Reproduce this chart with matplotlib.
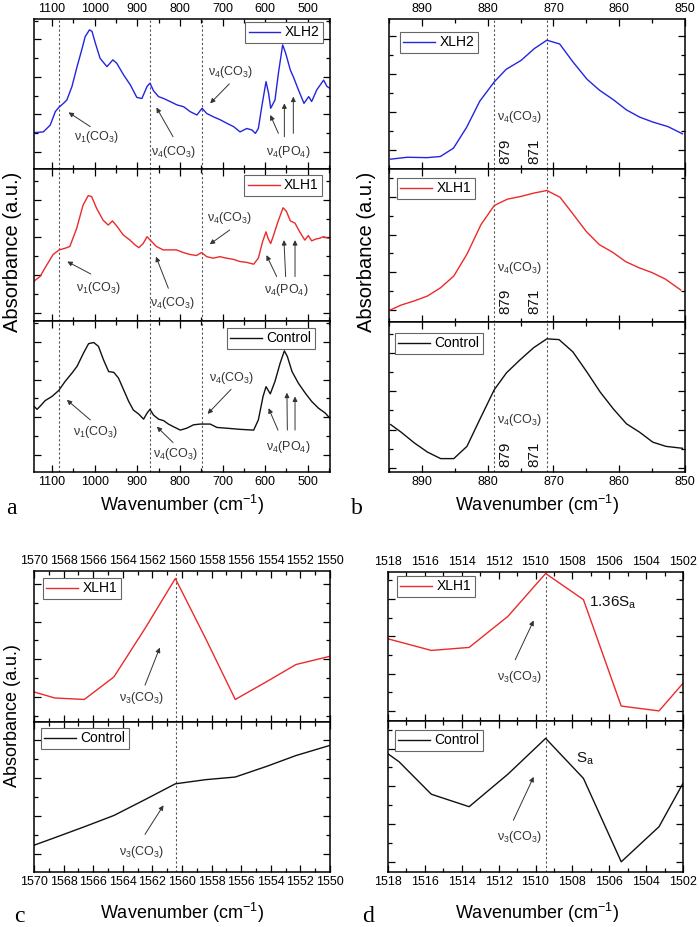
import matplotlib
matplotlib.use('Agg')
import matplotlib.pyplot as plt
from matplotlib.ticker import MultipleLocator, NullFormatter

plt.rcParams['font.family'] = ['Liberation Sans', 'DejaVu Sans']
plt.rcParams['mathtext.fontset'] = 'custom'
plt.rcParams['mathtext.rm'] = 'Liberation Sans'
plt.rcParams['mathtext.it'] = 'Liberation Sans:italic'
plt.rcParams['mathtext.bf'] = 'Liberation Sans:bold'

# ---------------- data: panel a (wide spectra) ----------------
a_wn_xlh2 = [1141, 1120, 1104, 1092, 1084, 1073, 1065, 1053, 1041, 1030, 1022, 1012, 1006, 998, 987,
             971, 957, 948, 932, 916, 901, 889, 877, 870, 862, 850, 838, 823, 807, 791, 776, 760, 748,
             737, 721, 705, 690, 674, 659, 643, 631, 623, 616, 608, 598, 592, 587, 577, 569, 559, 552,
             541, 534, 522, 509, 498, 491, 479, 471, 463, 455, 448]
a_xlh2 = [0.51, 0.53, 0.71, 1.07, 1.18, 1.29, 1.38, 1.74, 2.27, 2.72, 3.07, 3.25, 3.21, 2.89, 2.49,
          2.27, 2.45, 2.36, 2.05, 1.78, 1.45, 1.42, 1.74, 1.83, 1.63, 1.47, 1.42, 1.34, 1.25, 1.20, 1.07,
          0.98, 1.16, 1.02, 0.93, 0.85, 0.76, 0.67, 0.53, 0.62, 0.58, 0.49, 0.62, 1.20, 1.87, 1.56, 1.16,
          1.38, 2.09, 2.85, 2.63, 2.18, 2.00, 1.65, 1.29, 1.47, 1.34, 1.65, 1.78, 1.91, 1.74, 1.69]

a_wn_xlh1 = [1142, 1128, 1112, 1097, 1083, 1070, 1058, 1042, 1027, 1015, 1007, 995, 980, 968, 958,
             947, 933, 917, 905, 896, 886, 877, 866, 855, 839, 823, 808, 792, 777, 761, 749, 737, 722,
             706, 691, 675, 659, 644, 627, 616, 606, 598, 593, 587, 580, 570, 558, 550, 541, 530, 519,
             507, 499, 491, 481, 472, 464, 452]
a_xlh1 = [0.84, 0.96, 1.27, 1.55, 1.67, 1.71, 1.76, 2.24, 2.86, 3.11, 3.09, 2.77, 2.46, 2.33, 2.44,
          2.29, 2.07, 1.93, 1.80, 1.73, 1.84, 2.02, 1.89, 1.76, 1.67, 1.67, 1.67, 1.60, 1.55, 1.52, 1.60,
          1.49, 1.45, 1.49, 1.45, 1.42, 1.36, 1.34, 1.29, 1.45, 1.89, 2.15, 1.97, 1.84, 2.07, 2.42, 2.79,
          2.69, 2.44, 2.38, 2.15, 1.93, 2.05, 1.91, 1.96, 1.98, 2.02, 1.98]

a_wn_ctrl = [1141, 1135, 1127, 1116, 1100, 1084, 1069, 1053, 1041, 1026, 1014, 1002, 991, 979, 967,
             955, 944, 932, 920, 909, 897, 885, 877, 870, 862, 850, 838, 827, 815, 799, 784, 768, 752,
             729, 713, 690, 659, 627, 616, 605, 598, 588, 577, 565, 555, 548, 537, 522, 506, 491, 475,
             459, 448]
a_ctrl = [1.28, 1.21, 1.30, 1.44, 1.55, 1.71, 1.95, 2.17, 2.35, 2.70, 2.95, 2.98, 2.88, 2.52, 2.21,
          2.19, 2.04, 1.73, 1.42, 1.19, 1.09, 0.95, 1.11, 1.21, 1.06, 0.95, 0.91, 0.82, 0.75, 0.66, 0.71,
          0.80, 0.82, 0.82, 0.73, 0.71, 0.68, 0.66, 0.93, 1.55, 1.81, 1.62, 1.95, 2.43, 2.76, 2.61, 2.21,
          1.90, 1.64, 1.42, 1.24, 1.11, 0.97]
a_marks = [1084, 871, 749]

# ---------------- data: panel b (870 region) ----------------
b_wn_xlh2 = [894.75, 892.2, 889.2, 887.2, 885.2, 883.2, 881.2, 879.0, 877.2, 874.9, 872.9, 871.0,
             869.05, 867.05, 864.9, 863.0, 860.9, 858.9, 856.9, 854.9, 852.6, 850.4]
b_xlh2 = [-0.25, -0.20, -0.21, -0.18, 0.04, 0.59, 1.28, 1.79, 2.12, 2.36, 2.67, 2.89,
          2.79, 2.32, 1.86, 1.57, 1.32, 1.05, 0.86, 0.73, 0.61, 0.42]
b_wn_xlh1 = [894.8, 893.15, 891.15, 889.15, 887.15, 885.15, 883.15, 881.0, 879.0, 877.0, 875.0, 873.0,
             871.0, 869.0, 867.0, 865.0, 863.0, 861.0, 859.0, 857.0, 855.0, 853.0, 850.65]
b_xlh1 = [0.0, 0.13, 0.24, 0.37, 0.59, 0.90, 1.48, 2.27, 2.77, 2.94, 3.01, 3.10,
          3.17, 2.99, 2.54, 2.08, 1.73, 1.53, 1.28, 1.12, 0.99, 0.82, 0.53]
b_wn_ctrl = [894.75, 893.15, 891.15, 889.15, 887.15, 885.15, 883.15, 881.15, 879.0, 877.15, 875.15,
             873.0, 871.0, 869.15, 867.05, 864.9, 862.9, 860.9, 858.9, 856.9, 854.9, 852.9, 850.4]
b_ctrl = [1.13, 0.93, 0.65, 0.41, 0.24, 0.24, 0.56, 1.28, 2.04, 2.48, 2.81,
          3.14, 3.37, 3.35, 3.03, 2.50, 1.98, 1.54, 1.15, 0.93, 0.67, 0.56, 0.51]
b_marks = [879, 871]

# ---------------- data: panel c (1560 region) ----------------
c_wn = [1570.0, 1568.6, 1566.6, 1564.6, 1562.5, 1560.45, 1558.4, 1556.4, 1554.3, 1552.3, 1550.0]
c_xlh1 = [0.13, -0.03, -0.07, 0.53, 1.82, 3.15, 1.55, -0.07, 0.40, 0.86, 1.08]
c_ctrl = [0.22, 0.42, 0.71, 1.01, 1.43, 1.85, 1.96, 2.03, 2.31, 2.60, 2.87]
c_mark = 1560.43

# ---------------- data: panel d (1510 region) ----------------
d_wn_xlh1 = [1518.0, 1515.65, 1513.6, 1511.5, 1509.45, 1507.4, 1505.35, 1503.3, 1502.0]
d_xlh1 = [1.93, 1.62, 1.70, 2.53, 3.68, 2.98, 0.13, 0.0, 0.74]
d_wn_ctrl = [1518.0, 1517.4, 1515.65, 1513.6, 1511.5, 1509.45, 1507.4, 1505.35, 1503.3, 1502.0]
d_ctrl = [2.86, 2.65, 1.79, 1.46, 2.32, 3.27, 2.21, 0.0, 0.93, 2.08]
d_mark = 1509.45

BLUE = '#2424e0'
RED = '#ec2a2a'
BLACK = '#111111'
ANN = '#333333'

W, H = 699, 927
fig = plt.figure(figsize=(W / 100, H / 100), dpi=100)


def rect(x0, x1, ytop, ybot):
    return [x0 / W, 1 - ybot / H, (x1 - x0) / W, (ybot - ytop) / H]


def make_ax(r, xlim, ylim, xmaj, xmin, top_labels=False, bottom_labels=False):
    ax = fig.add_axes(r)
    ax.set_xlim(*xlim)
    ax.set_ylim(*ylim)
    ax.xaxis.set_major_locator(MultipleLocator(xmaj))
    ax.xaxis.set_minor_locator(MultipleLocator(xmin))
    ax.yaxis.set_major_locator(MultipleLocator(1))
    ax.yaxis.set_minor_locator(MultipleLocator(0.5))
    ax.yaxis.set_major_formatter(NullFormatter())
    ax.tick_params(which='both', direction='in', top=True, right=True, width=0.9,
                   labelsize=9, pad=3, labeltop=top_labels, labelbottom=bottom_labels,
                   labelleft=False)
    ax.tick_params(which='major', length=5)
    ax.tick_params(which='minor', length=3)
    for s in ax.spines.values():
        s.set_linewidth(1.1)
    return ax


def vlines(ax, xs):
    for x in xs:
        ax.axvline(x, color='#555555', lw=0.8, ls=(0, (2, 2)), zorder=1)


def arrow(ax, tail, head):
    ax.annotate('', xy=head, xytext=tail,
                arrowprops=dict(arrowstyle='-|>', color=ANN, lw=0.7, mutation_scale=7,
                                shrinkA=0, shrinkB=0))


def label(ax, x, y, s, size=9):
    ax.text(x, y, s, ha='center', va='center', fontsize=size, color=ANN)


def legend(ax, loc, anchor):
    lg = ax.legend(loc=loc, bbox_to_anchor=anchor, borderaxespad=0, frameon=True, fancybox=False,
                   edgecolor='#666666', framealpha=1, fontsize=10, handlelength=2.3,
                   handletextpad=0.3, borderpad=0.25)
    lg.get_frame().set_linewidth(0.8)


nu1 = 'ν$_1$(CO$_3$)'
nu4c = 'ν$_4$(CO$_3$)'
nu4p = 'ν$_4$(PO$_4$)'
nu3 = 'ν$_3$(CO$_3$)'

# ================= panel a =================
AX0, AX1 = 34, 330
axa1 = make_ax(rect(AX0, AX1, 19, 169), (1142, 448), (-0.46, 3.54), 100, 50, top_labels=True)
axa2 = make_ax(rect(AX0, AX1, 169, 321), (1142, 448), (-0.22, 3.82), 100, 50)
axa3 = make_ax(rect(AX0, AX1, 321, 472), (1142, 448), (-0.45, 3.55), 100, 50, bottom_labels=True)

axa1.plot(a_wn_xlh2, a_xlh2, color=BLUE, lw=1.0, label='XLH2')
axa2.plot(a_wn_xlh1, a_xlh1, color=RED, lw=1.0, label='XLH1')
axa3.plot(a_wn_ctrl, a_ctrl, color=BLACK, lw=1.0, label='Control')
for ax in (axa1, axa2, axa3):
    vlines(ax, a_marks)

legend(axa1, 'upper right', (1 - 7 / 296, 1 - 3 / 150))
legend(axa2, 'upper right', (1 - 8 / 296, 1 - 6 / 152))
legend(axa3, 'upper right', (1 - 15 / 296, 1 - 7 / 151))

# annotations top
label(axa1, 994, 0.40, nu1)
arrow(axa1, (1010, 0.67), (1061, 1.05))
label(axa1, 815, 0.0, nu4c)
arrow(axa1, (816, 0.40), (855, 1.18))
label(axa1, 682, 2.14, nu4c)
arrow(axa1, (684, 1.81), (729, 1.29))
label(axa1, 545, 0.0, nu4p)
arrow(axa1, (569, 0.49), (588, 0.98))
arrow(axa1, (555, 0.40), (555, 1.29))
arrow(axa1, (534, 0.49), (534, 1.47))
# annotations middle
label(axa2, 991, 0.65, nu1)
arrow(axa2, (1009, 1.03), (1064, 1.36))
label(axa2, 816, 0.25, nu4c)
arrow(axa2, (827, 0.65), (856, 1.49))
label(axa2, 683, 2.51, nu4c)
arrow(axa2, (683, 2.20), (730, 1.82))
label(axa2, 550, 0.60, nu4p)
arrow(axa2, (573, 0.96), (597, 1.53))
arrow(axa2, (552, 0.96), (556, 1.93))
arrow(axa2, (530, 0.96), (530, 1.93))
# annotations bottom
label(axa3, 998, 0.62, nu1)
arrow(axa3, (1010, 0.93), (1065, 1.46))
label(axa3, 811, 0.04, nu4c)
arrow(axa3, (816, 0.33), (854, 0.75))
label(axa3, 678, 2.04, nu4c)
arrow(axa3, (680, 1.74), (735, 1.09))
label(axa3, 545, 0.22, nu4p)
arrow(axa3, (570, 0.66), (592, 1.24))
arrow(axa3, (548, 0.66), (549, 1.65))
arrow(axa3, (530, 0.66), (530, 1.55))

# ================= panel b =================
BX0, BX1 = 389, 685
axb1 = make_ax(rect(BX0, BX1, 19, 169), (895, 850), (-0.51, 3.45), 10, 5, top_labels=True)
axb2 = make_ax(rect(BX0, BX1, 169, 322), (895, 850), (-0.32, 3.74), 10, 5)
axb3 = make_ax(rect(BX0, BX1, 322, 472), (895, 850), (-0.11, 3.81), 10, 5, bottom_labels=True)

axb1.plot(b_wn_xlh2, b_xlh2, color=BLUE, lw=1.0, label='XLH2')
axb2.plot(b_wn_xlh1, b_xlh1, color=RED, lw=1.0, label='XLH1')
axb3.plot(b_wn_ctrl, b_ctrl, color=BLACK, lw=1.0, label='Control')
for ax in (axb1, axb2, axb3):
    vlines(ax, b_marks)

legend(axb1, 'upper left', (11 / 296, 1 - 13 / 150))
legend(axb2, 'upper left', (8 / 296, 1 - 9 / 153))
legend(axb3, 'upper left', (6 / 296, 1 - 11 / 150))

for ax, yl, yn in ((axb1, 0.86, -0.03), (axb2, 1.10, 0.24), (axb3, 1.24, 0.36)):
    label(ax, 875.15, yl, nu4c)
    ax.text(877.3, yn, '879', rotation=90, ha='center', va='center', fontsize=11, color=BLACK)
    ax.text(872.9, yn, '871', rotation=90, ha='center', va='center', fontsize=11, color=BLACK)

# ================= panel c =================
CX0, CX1 = 34, 330
axc1 = make_ax(rect(CX0, CX1, 571, 722), (1570, 1550), (-0.67, 3.35), 2, 1, top_labels=True)
axc2 = make_ax(rect(CX0, CX1, 722, 872), (1570, 1550), (-0.49, 3.49), 2, 1, bottom_labels=True)
axc1.plot(c_wn, c_xlh1, color=RED, lw=1.0, label='XLH1')
axc2.plot(c_wn, c_ctrl, color=BLACK, lw=1.0, label='Control')
for ax in (axc1, axc2):
    vlines(ax, [c_mark])
legend(axc1, 'upper left', (9 / 296, 1 - 7 / 151))
legend(axc2, 'upper left', (7 / 296, 1 - 6 / 150))
label(axc1, 1562.75, -0.04, nu3)
arrow(axc1, (1562.5, 0.31), (1561.5, 1.31))
label(axc2, 1562.75, 0.04, nu3)
arrow(axc2, (1562.5, 0.51), (1561.25, 1.28))

# ================= panel d =================
DX0, DX1 = 388, 683
axd1 = make_ax(rect(DX0, DX1, 572, 721), (1518, 1502), (-0.27, 3.72), 2, 1, top_labels=True)
axd2 = make_ax(rect(DX0, DX1, 721, 872), (1518, 1502), (-0.27, 3.73), 2, 1, bottom_labels=True)
axd1.plot(d_wn_xlh1, d_xlh1, color=RED, lw=1.0, label='XLH1')
axd2.plot(d_wn_ctrl, d_ctrl, color=BLACK, lw=1.0, label='Control')
for ax in (axd1, axd2):
    vlines(ax, [d_mark])
legend(axd1, 'upper left', (9 / 295, 1 - 4 / 149))
legend(axd2, 'upper left', (7 / 295, 1 - 9 / 151))
label(axd1, 1510.86, 0.92, nu3)
arrow(axd1, (1511.1, 1.37), (1510.1, 2.42))
label(axd2, 1510.86, 0.66, nu3)
arrow(axd2, (1511.2, 1.10), (1510.1, 2.25))
axd1.text(1505.8, 2.89, r'1.36S$_\mathrm{a}$', ha='center', va='center', fontsize=11, color=BLACK)
axd2.text(1507.3, 2.72, r'S$_\mathrm{a}$', ha='center', va='center', fontsize=11, color=BLACK)

# ================= figure texts =================
xl = r'Wavenumber (cm$^{-1}$)'
fig.text(182 / W, 1 - 505 / H, xl, ha='center', va='center', fontsize=13)
fig.text(537 / W, 1 - 505 / H, xl, ha='center', va='center', fontsize=13)
fig.text(182 / W, 1 - 913 / H, xl, ha='center', va='center', fontsize=13)
fig.text(537 / W, 1 - 913 / H, xl, ha='center', va='center', fontsize=13)

yl = 'Absorbance (a.u.)'
fig.text(13 / W, 1 - 252 / H, yl, rotation=90, ha='center', va='center', fontsize=14.5)
fig.text(366 / W, 1 - 252 / H, yl, rotation=90, ha='center', va='center', fontsize=14.5)
fig.text(13 / W, 1 - 716 / H, yl, rotation=90, ha='center', va='center', fontsize=13)

for s, x, y in (('a', 11, 508), ('b', 357, 508), ('c', 19, 916), ('d', 368, 916)):
    fig.text(x / W, 1 - y / H, s, ha='center', va='center', fontsize=17,
             family=['Liberation Serif', 'DejaVu Serif'])

fig.savefig('out.png', dpi=100)
